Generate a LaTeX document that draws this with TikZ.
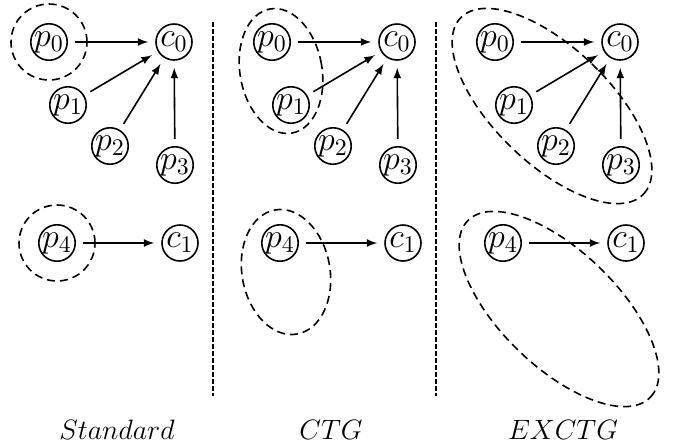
\documentclass[tikz,border=0pt]{standalone}
\usepackage{fix-cm}
\begin{document}
\begin{tikzpicture}[x=0.5pt,y=0.5pt,
    vert/.style={circle,draw,line width=0.8pt,minimum size=18pt,inner sep=0pt,
      font=\fontsize{17}{20}\selectfont},
    link/.style={-latex,line width=0.8pt,shorten >=3.5pt,shorten <=3.5pt},
    grp/.style={line width=0.8pt,dash pattern=on 4pt off 2.5pt},
    sep/.style={line width=0.7pt,dash pattern=on 2.5pt off 1pt},
    lab/.style={font=\fontsize{14}{17}\selectfont}]

        % Fix the page to the size of the picture
        \useasboundingbox (0,0) rectangle (673,-447);

        % Offset between the three panels
        \def\dx{223}

        % Draw the same graph in each panel
        \foreach \k in {0,1,2} {
          \node[vert] (p0-\k) at ({49+\k*\dx},-42) {$p_0$};
          \node[vert] (c0-\k) at ({174+\k*\dx},-42) {$c_0$};
          \node[vert] (p1-\k) at ({68+\k*\dx},-105) {$p_1$};
          \node[vert] (p2-\k) at ({110+\k*\dx},-146) {$p_2$};
          \node[vert] (p3-\k) at ({175+\k*\dx},-165) {$p_3$};
          \node[vert] (p4-\k) at ({57+\k*\dx},-243) {$p_4$};
          \node[vert] (c1-\k) at ({180+\k*\dx},-243) {$c_1$};
          \foreach \s in {0,1,2,3} \draw[link] (p\s-\k) -- (c0-\k);
          \draw[link] (p4-\k) -- (c1-\k);
        }

        % Separate the panels
        \draw[sep] (213,-22) -- (213,-396);
        \draw[sep] (436,-22) -- (436,-396);

        % Standard: every producer on its own
        \draw[grp] (p0-0) circle [radius=38];
        \draw[grp] (p4-0) circle [radius=38];

        % CTG
        \draw[grp] (281,-71) circle [x radius=41, y radius=63, rotate=10];
        \draw[grp] (286,-272) circle [x radius=44, y radius=63, rotate=10];

        % EXCTG
        \draw[grp] (552,-106) circle [x radius=127, y radius=58, rotate=-44];
        \draw[grp] (559,-309) circle [x radius=127, y radius=58, rotate=-44];

        % Write the panel names
        \node[lab] (std) at (117,-430) {$Standard$};
        \node[lab] (ctg) at (331,-430) {$CTG$};
        \node[lab] (exctg) at (563,-430) {$EXCTG$};

      \end{tikzpicture}
\end{document}
